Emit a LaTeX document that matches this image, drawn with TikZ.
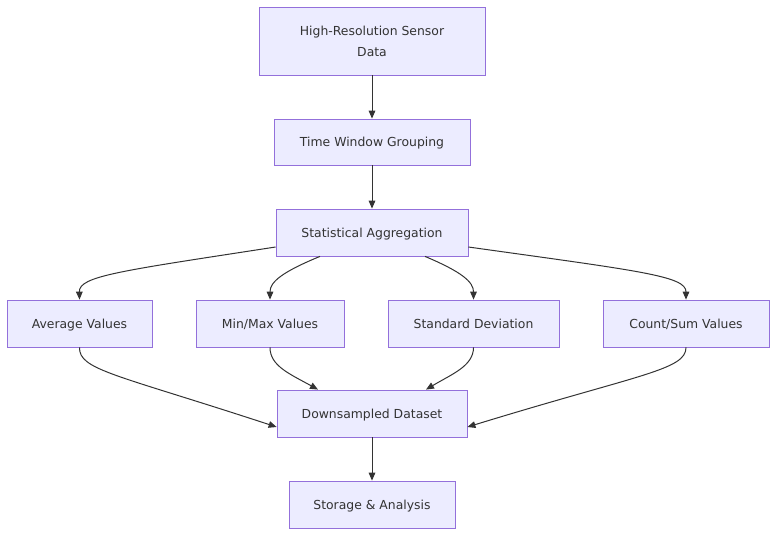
\documentclass[tikz,border=0pt]{standalone}
\usepackage{fontspec}
\setmainfont{DejaVu Sans}
\usetikzlibrary{arrows.meta}
\definecolor{nodefill}{HTML}{ECECFF}
\definecolor{nodeline}{HTML}{9370DB}
\definecolor{edgeline}{HTML}{333333}
\definecolor{textcol}{HTML}{333333}
\begin{document}
\begin{tikzpicture}[x=0.75pt,y=-0.75pt,
  box/.style={draw=nodeline,fill=nodefill,line width=0.6pt,inner sep=0pt,text=textcol,font=\fontsize{9.3}{15.5}\selectfont,align=center,text depth=0pt},
  edge/.style={draw=edgeline,line width=0.75pt,-{Triangle[length=6pt,width=5pt]}}]
\useasboundingbox (0,0) rectangle (784,542);
\node[box,minimum width=226*0.75pt,minimum height=68*0.75pt] (A) at (372,41) {High-Resolution Sensor\\Data};
\node[box,minimum width=196*0.75pt,minimum height=46*0.75pt] (B) at (372,142) {Time Window Grouping};
\node[box,minimum width=192*0.75pt,minimum height=47*0.75pt] (C) at (372,232.5) {Statistical Aggregation};
\node[box,minimum width=145*0.75pt,minimum height=47*0.75pt] (D1) at (79.5,323.5) {Average Values};
\node[box,minimum width=148*0.75pt,minimum height=47*0.75pt] (D2) at (270,323.5) {Min/Max Values};
\node[box,minimum width=171*0.75pt,minimum height=47*0.75pt] (D3) at (473.5,323.5) {Standard Deviation};
\node[box,minimum width=166*0.75pt,minimum height=47*0.75pt] (D4) at (686,323.5) {Count/Sum Values};
\node[box,minimum width=190*0.75pt,minimum height=47*0.75pt] (E) at (372,413.5) {Downsampled Dataset};
\node[box,minimum width=166*0.75pt,minimum height=47*0.75pt] (F) at (372,504.5) {Storage \& Analysis};
\draw[edge] (A) -- (B);
\draw[edge] (B) -- (C);
\draw[edge] (E) -- (F);
\draw[edge] ([yshift=-14.5*0.75pt]C.west) .. controls (120,271) and (79,276) .. (D1.north);
\draw[edge] ([xshift=-52*0.75pt]C.south) .. controls (282,272) and (270,282) .. (D2.north);
\draw[edge] ([xshift=53*0.75pt]C.south) .. controls (462,272) and (473.5,282) .. (D3.north);
\draw[edge] ([yshift=-14.5*0.75pt]C.east) .. controls (640,271) and (686,276) .. (D4.north);
\draw[edge] (D1.south) .. controls (79,370) and (115,374) .. ([yshift=-13.5*0.75pt]E.west);
\draw[edge] (D2.south) .. controls (270,366) and (290,374) .. ([xshift=-54*0.75pt]E.north);
\draw[edge] (D3.south) .. controls (473.5,366) and (452,374) .. ([xshift=54*0.75pt]E.north);
\draw[edge] (D4.south) .. controls (686,370) and (640,374) .. ([yshift=-13.5*0.75pt]E.east);
\end{tikzpicture}
\end{document}
